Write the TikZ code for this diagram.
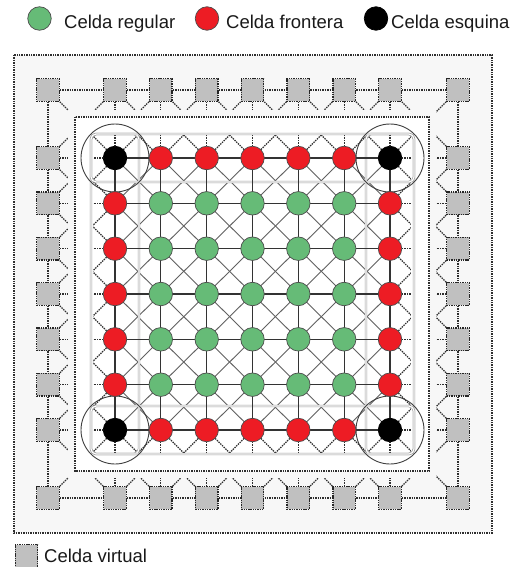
\documentclass[tikz,border=0pt]{standalone}
\usepackage{fontspec}
\setmainfont{Liberation Sans}
\definecolor{cellgreen}{RGB}{102,187,119}
\definecolor{cellred}{RGB}{237,28,36}
\definecolor{virtgray}{RGB}{192,192,192}
\definecolor{bandgray}{RGB}{247,247,247}
\tikzset{
  regularcell/.style={draw=black!70, line width=0.7pt, circle, fill=cellgreen, minimum size=23.5pt, inner sep=0pt},
  frontcell/.style={regularcell, fill=cellred},
  cornercell/.style={regularcell, fill=black, draw=black},
  virtcell/.style={draw=black!85, line width=1.3pt, dash pattern=on 1.4pt off 0.9pt, fill=virtgray, minimum size=22.5pt, inner sep=0pt},
  virtlink/.style={draw=black!82, line width=1.25pt, dash pattern=on 1.4pt off 1pt},
  gridlink/.style={draw=black!80, line width=1.3pt},
  diaglink/.style={draw=black!62, line width=0.9pt},
  zone/.style={draw=black!40, line width=0.6pt, double=white, double distance=1.2pt, rounded corners=5pt},
  cornerring/.style={draw=black!75, line width=0.9pt},
  legendtext/.style={font=\fontsize{18.5}{20}\selectfont, text=black!90, inner sep=0pt, anchor=base west}
}
\begin{document}
\begin{tikzpicture}[x=1pt, y=-1pt]
  \useasboundingbox (0,0) rectangle (514,567);

  % regions
  \draw[virtlink, fill=bandgray] (14,55) rectangle (492,533);
  \fill[white] (75,117) rectangle (429,471);

  % cell positions
  \foreach \px [count=\i from 0] in {48,115,160.8,206.7,252.5,298.3,344.2,390,458}{
    \foreach \py [count=\j from 0] in {90,158,203.3,248.7,294,339.3,384.7,430,498}{
      \coordinate (c-\i-\j) at (\px,\py);
    }
  }

  % links (cut ones between virtual and real cells)
  \foreach \i in {0,...,8}{
    \foreach \j in {0,...,8}{
      \foreach \di/\dj in {1/0,0/1,1/1,1/-1}{
        \pgfmathtruncatemacro\ti{\i+\di}
        \pgfmathtruncatemacro\tj{\j+\dj}
        \pgfmathtruncatemacro\inrange{(\ti<9)&&(\tj>-1)&&(\tj<9)}
        \ifnum\inrange=1
          \pgfmathtruncatemacro\avirt{(\i==0)||(\i==8)||(\j==0)||(\j==8)}
          \pgfmathtruncatemacro\bvirt{(\ti==0)||(\ti==8)||(\tj==0)||(\tj==8)}
          \pgfmathtruncatemacro\isdiag{abs(\di*\dj)}
          \pgfmathtruncatemacro\isreal{(1-\avirt)*(1-\bvirt)}
          \pgfmathtruncatemacro\ring{\avirt*\bvirt*(1-\isdiag)}
          \ifnum\isreal=1
            \ifnum\isdiag=1 \draw[diaglink] (c-\i-\j) -- (c-\ti-\tj); \fi
          \else\ifnum\ring=1
            \draw[virtlink] (c-\i-\j) -- (c-\ti-\tj);
          \else
            \draw[virtlink] (c-\i-\j) -- ++(40*\di,40*\dj);
            \draw[virtlink] (c-\ti-\tj) -- ++(-40*\di,-40*\dj);
          \fi\fi
        \fi
      }
    }
  }

  % gap between virtual and real cells
  \draw[line width=7pt, bandgray] (71.5,113.5) rectangle (432.5,474.5);
  \draw[line width=18pt, white] (84,126) rectangle (420,462);
  \draw[virtlink] (75,117) rectangle (429,471);

  % border zones
  \draw[zone] (91,134) rectangle (139,454);
  \draw[zone] (366,134) rectangle (414,454);
  \draw[zone] (91,134) rectangle (414,182);
  \draw[zone] (91,406) rectangle (414,454);
  \foreach \i/\j in {1/1,7/1,1/7,7/7}{
    \draw[cornerring] (c-\i-\j) circle[radius=34];
  }

  % links between real cells
  \foreach \i in {1,...,7}{
    \foreach \j [evaluate=\j as \nj using int(\j+1)] in {1,...,6}{
      \draw[gridlink] (c-\i-\j) -- (c-\i-\nj);
      \draw[gridlink] (c-\j-\i) -- (c-\nj-\i);
    }
  }

  % cells
  \foreach \i in {0,...,8}{
    \foreach \j in {0,...,8}{
      \pgfmathtruncatemacro\isvirt{(\i==0)||(\i==8)||(\j==0)||(\j==8)}
      \pgfmathtruncatemacro\isedge{(\i==1)||(\i==7)||(\j==1)||(\j==7)}
      \pgfmathtruncatemacro\iscorner{((\i==1)||(\i==7))&&((\j==1)||(\j==7))}
      \ifnum\isvirt=1 \node[virtcell] (n-\i-\j) at (c-\i-\j) {};
      \else\ifnum\iscorner=1 \node[cornercell] (n-\i-\j) at (c-\i-\j) {};
      \else\ifnum\isedge=1 \node[frontcell] (n-\i-\j) at (c-\i-\j) {};
      \else \node[regularcell] (n-\i-\j) at (c-\i-\j) {};
      \fi\fi\fi
    }
  }

  % legend
  \node[regularcell] (leg-regular) at (39.5,18.5) {};
  \node[legendtext] (leg-regular-txt) at (64,28.5) {Celda regular};
  \node[frontcell] (leg-front) at (207,18.5) {};
  \node[legendtext] (leg-front-txt) at (226,28.5) {Celda frontera};
  \node[cornercell] (leg-corner) at (376,18.5) {};
  \node[legendtext] (leg-corner-txt) at (391,28.5) {Celda esquina};
  \node[virtcell] (leg-virtual) at (26.5,556) {};
  \node[legendtext] (leg-virtual-txt) at (44,562) {Celda virtual};
\end{tikzpicture}
\end{document}
